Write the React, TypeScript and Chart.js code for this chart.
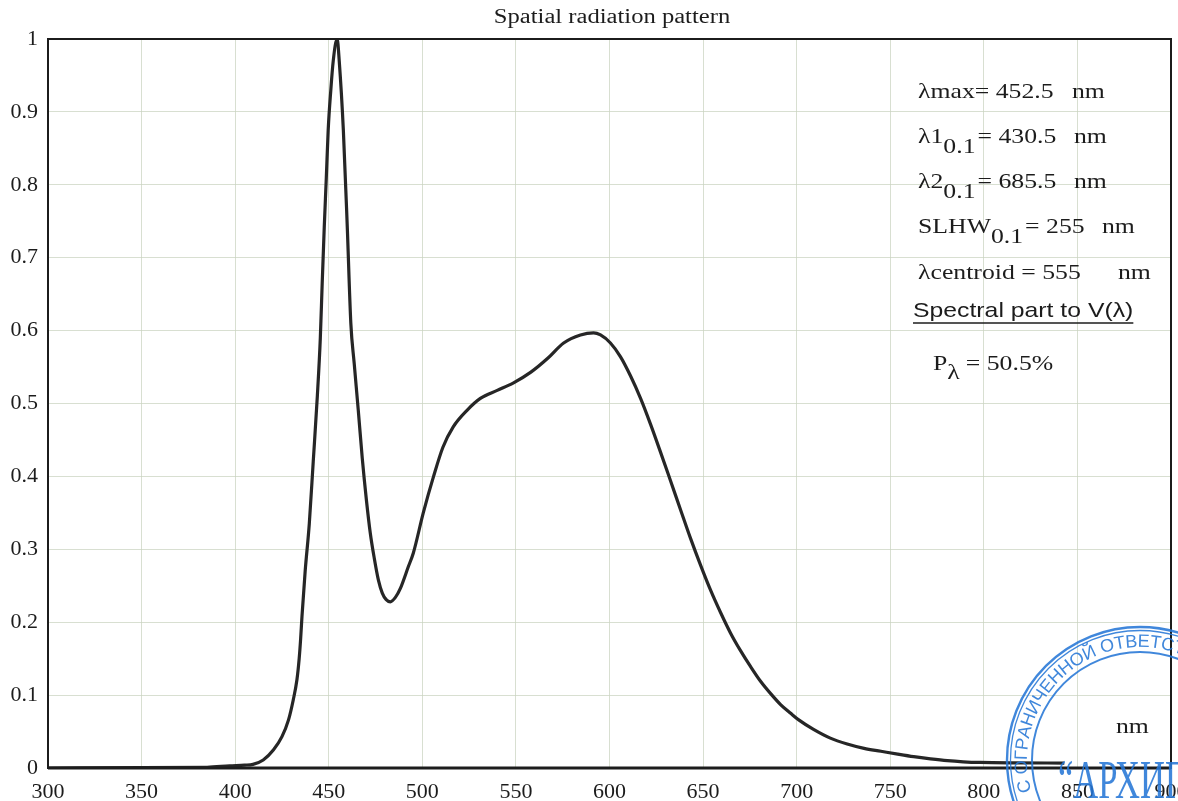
import React, { useEffect, useRef } from "react";
import { Chart, registerables } from "chart.js";

Chart.register(...registerables);

// ---- data ----
const wavelengths = [
  300, 385, 397, 405, 409.5, 415, 420.5, 425, 428.5, 431,
  433, 434.2, 435, 435.7, 437.4, 439.6, 441.7, 443.9, 445.5, 446.5,
  447.6, 448.7, 449.7, 451.1, 452.4, 454.5, 455.6, 457.8, 459.9, 461.8,
  463.6, 465.8, 467.9, 470.1, 472.2, 474.3, 476.5, 478.6, 480.7, 482.9,
  485.6, 488.2, 492.5, 495.2, 500.5, 506, 511, 516.5, 524, 531,
  540, 548.5, 558, 567, 575.5, 584.5, 591.5, 595.2, 600.5, 605.9,
  611.2, 616.6, 622, 627.3, 632.6, 638, 643.3, 648.7, 654, 659.4,
  664.7, 670, 675.4, 680.7, 686.1, 691.4, 696.8, 701.1, 709, 718,
  727, 736, 745, 754, 762.5, 771.5, 780.5, 789, 798, 816,
  843,
];
const intensity = [
  0, 0.001, 0.003, 0.004, 0.005, 0.011, 0.025, 0.043, 0.066, 0.093,
  0.121, 0.15, 0.178, 0.208, 0.27, 0.335, 0.42, 0.51, 0.59, 0.665,
  0.742, 0.81, 0.875, 0.93, 0.97, 1.0, 0.97, 0.875, 0.742, 0.61,
  0.555, 0.49, 0.425, 0.368, 0.322, 0.288, 0.258, 0.24, 0.231, 0.228,
  0.234, 0.246, 0.276, 0.295, 0.35, 0.4, 0.44, 0.468, 0.491, 0.507,
  0.518, 0.528, 0.543, 0.562, 0.583, 0.594, 0.597, 0.594, 0.583, 0.564,
  0.538, 0.507, 0.471, 0.433, 0.394, 0.354, 0.315, 0.278, 0.244, 0.213,
  0.185, 0.161, 0.139, 0.119, 0.102, 0.087, 0.075, 0.066, 0.053, 0.041,
  0.033, 0.027, 0.023, 0.019, 0.0155, 0.0125, 0.01, 0.0085, 0.0076, 0.007,
  0.0068,
];
const xTickValues = [300, 350, 400, 450, 500, 550, 600, 650, 700, 750, 800, 850, 900];
const xTickLabels = ["300", "350", "400", "450", "500", "550", "600", "650", "700", "750", "800", "850", "900"];
const yTickValues = [0, 0.1, 0.2, 0.3, 0.4, 0.5, 0.6, 0.7, 0.8, 0.9, 1];
const yTickLabels = ["0", "0.1", "0.2", "0.3", "0.4", "0.5", "0.6", "0.7", "0.8", "0.9", "1"];
const titleText = "Spatial radiation pattern";
const unitText = "nm";
const stampRing = "С ОГРАНИЧЕННОЙ ОТВЕТСТВЕННОСТЬЮ";
const stampName = "\u201CАРХИП";

const SERIF = '"Liberation Serif", "Times New Roman", serif';
const SANS = '"Liberation Sans", Arial, sans-serif';
const INK = "#1c1c1c";

function stretchText(
  ctx: CanvasRenderingContext2D,
  text: string,
  x: number,
  y: number,
  font: string,
  sx: number,
  align: "left" | "center" = "left"
): number {
  ctx.save();
  ctx.font = font;
  ctx.textAlign = "left";
  ctx.textBaseline = "alphabetic";
  const w = ctx.measureText(text).width * sx;
  const x0 = align === "center" ? x - w / 2 : x;
  ctx.translate(x0, y);
  ctx.scale(sx, 1);
  ctx.fillText(text, 0, 0);
  ctx.restore();
  return x0 + w;
}

const decorPlugin = {
  id: "decor",
  afterDatasetsDraw(chart: any) {
    const ctx: CanvasRenderingContext2D = chart.ctx;
    const a = chart.chartArea;
    ctx.save();
    // frame
    ctx.strokeStyle = INK;
    ctx.lineWidth = 2;
    ctx.strokeRect(a.left, a.top, a.right - a.left, a.bottom - a.top);
    ctx.lineWidth = 3;
    ctx.beginPath();
    ctx.moveTo(a.left, a.bottom);
    ctx.lineTo(a.right, a.bottom);
    ctx.stroke();

    ctx.fillStyle = INK;
    // title
    stretchText(ctx, titleText, 612, 23, `20px ${SERIF}`, 1.23, "center");

    // annotation block
    const SX = 1.17;
    const F = `22px ${SERIF}`;
    stretchText(ctx, "λmax= 452.5", 918, 98, F, SX);
    stretchText(ctx, "nm", 1072, 98, F, SX);

    let e = stretchText(ctx, "λ1", 918, 143, F, SX);
    e = stretchText(ctx, "0.1", e, 153, F, SX);
    stretchText(ctx, "= 430.5", e + 2, 143, F, SX);
    stretchText(ctx, "nm", 1074, 143, F, SX);

    e = stretchText(ctx, "λ2", 918, 188, F, SX);
    e = stretchText(ctx, "0.1", e, 198, F, SX);
    stretchText(ctx, "= 685.5", e + 2, 188, F, SX);
    stretchText(ctx, "nm", 1074, 188, F, SX);

    e = stretchText(ctx, "SLHW", 918, 233, F, SX);
    e = stretchText(ctx, "0.1", e, 243, F, SX);
    stretchText(ctx, "= 255", e + 2, 233, F, SX);
    stretchText(ctx, "nm", 1102, 233, F, SX);

    stretchText(ctx, "λcentroid = 555", 918, 279, F, SX);
    stretchText(ctx, "nm", 1118, 279, F, SX);

    const endS = stretchText(ctx, "Spectral part to V(λ)", 913, 317, `21px ${SANS}`, 1.18);
    ctx.lineWidth = 1.5;
    ctx.beginPath();
    ctx.moveTo(913, 323);
    ctx.lineTo(endS, 323);
    ctx.stroke();

    e = stretchText(ctx, "P", 933, 370, F, SX);
    e = stretchText(ctx, "λ", e, 379, F, SX);
    stretchText(ctx, "= 50.5%", e + 6, 370, F, SX);

    stretchText(ctx, unitText, 1116, 733, F, SX);
    ctx.restore();
  },
  afterDraw(chart: any) {
    const ctx: CanvasRenderingContext2D = chart.ctx;
    ctx.save();
    const blue = "rgba(38,118,214,0.88)";
    ctx.strokeStyle = blue;
    ctx.fillStyle = blue;
    const cx = 1140;
    const cy = 760;
    const rings: [number, number][] = [
      [133, 2.4],
      [129.5, 1.3],
      [108, 2],
    ];
    for (const [r, w] of rings) {
      ctx.lineWidth = w;
      ctx.beginPath();
      ctx.arc(cx, cy, r, 0, Math.PI * 2);
      ctx.stroke();
    }
    ctx.font = `18px ${SANS}`;
    const R = 118;
    let ang = (164 * Math.PI) / 180;
    for (const ch of stampRing) {
      const w = ctx.measureText(ch).width;
      const half = w / 2 / R;
      ang += half;
      ctx.save();
      ctx.translate(cx + R * Math.cos(ang), cy + R * Math.sin(ang));
      ctx.rotate(ang + Math.PI / 2);
      ctx.textAlign = "center";
      ctx.textBaseline = "middle";
      ctx.fillText(ch, 0, 0);
      ctx.restore();
      ang += half + 0.3 / R;
    }
    stretchText(ctx, stampName, 1058, 798, `54px ${SERIF}`, 0.64);
    ctx.restore();
  },
};

export default function App() {
  const ref = useRef<HTMLCanvasElement | null>(null);

  useEffect(() => {
    document.body.style.margin = "0";
    const canvas = ref.current;
    if (!canvas) return;
    const gridColor = "rgba(200,210,190,0.7)";
    const chart = new Chart(canvas, {
      type: "line",
      data: {
        datasets: [
          {
            data: wavelengths.map((x, i) => ({ x, y: intensity[i] })),
            borderColor: "#262626",
            borderWidth: 3.2,
            pointRadius: 0,
            cubicInterpolationMode: "monotone",
            fill: false,
          },
        ],
      },
      options: {
        responsive: false,
        animation: false,
        layout: { padding: { top: 39, right: 7, left: 0, bottom: 0 } },
        plugins: {
          legend: { display: false },
          title: { display: false },
          tooltip: { enabled: false },
        },
        scales: {
          x: {
            type: "linear",
            min: 300,
            max: 900,
            afterBuildTicks: (s: any) => {
              s.ticks = xTickValues.map((v) => ({ value: v }));
            },
            ticks: {
              autoSkip: false,
              maxRotation: 0,
              padding: 11,
              color: INK,
              font: { family: SERIF, size: 22 },
              callback: (_v: any, i: number) => xTickLabels[i],
            },
            grid: { color: gridColor, lineWidth: 1, drawTicks: false },
            border: { display: false },
            afterFit: (s: any) => {
              s.height = 33;
              s.paddingLeft = 0;
              s.paddingRight = 0;
            },
          },
          y: {
            type: "linear",
            min: 0,
            max: 1,
            afterBuildTicks: (s: any) => {
              s.ticks = yTickValues.map((v) => ({ value: v }));
            },
            ticks: {
              autoSkip: false,
              padding: 10,
              color: INK,
              font: { family: SERIF, size: 22 },
              callback: (_v: any, i: number) => yTickLabels[i],
            },
            grid: { color: gridColor, lineWidth: 1, drawTicks: false },
            border: { display: false },
            afterFit: (s: any) => {
              s.width = 48;
              s.paddingTop = 0;
              s.paddingBottom = 0;
            },
          },
        },
      },
      plugins: [decorPlugin],
    } as any);
    return () => chart.destroy();
  }, []);

  return (
    <div style={{ width: 1178, height: 801, background: "#fff" }}>
      <canvas ref={ref} width={1178} height={801} style={{ display: "block" }} />
    </div>
  );
}
